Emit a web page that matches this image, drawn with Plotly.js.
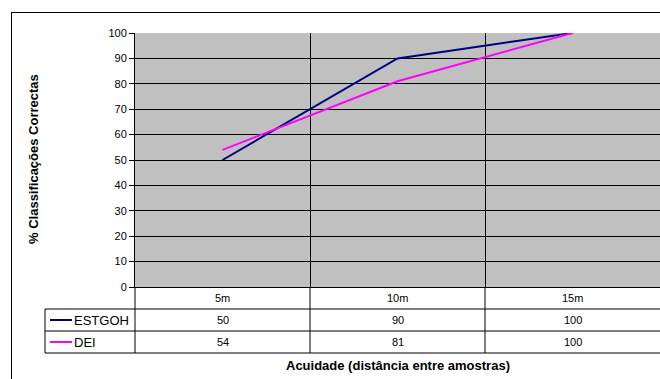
<!DOCTYPE html>
<html>
<head>
<meta charset="utf-8">
<script src="https://cdn.plot.ly/plotly-3.0.1.min.js"></script>
<style>
  html, body { margin: 0; padding: 0; background: #ffffff; }
  #chart { width: 660px; height: 379px; }
</style>
</head>
<body>
<div id="chart"></div>
<script>
// Sampling distance categories and the percentage of correct classifications
const categories = ['5m', '10m', '15m'];
const seriesNames = ['ESTGOH', 'DEI'];
const estgoh = [50, 90, 100];
const dei = [54, 81, 100];
const yTicks = [0, 10, 20, 30, 40, 50, 60, 70, 80, 90, 100];

const seriesValues = [estgoh, dei];
const seriesColors = ['#000080', '#ff00ff'];

// Canvas geometry
const W = 660, H = 379;
const M = { l: 135, r: 0, t: 33, b: 92 };
const plotW = W - M.l - M.r;
const plotH = H - M.t - M.b;
const px = x => (x - M.l) / plotW;          // pixel x -> paper x
const py = y => (H - M.b - y) / plotH;      // pixel y -> paper y

const FONT = 'Liberation Sans, Arial, sans-serif';
const xIdx = categories.map((_, i) => i);

const traces = seriesValues.map((vals, s) => ({
  type: 'scatter',
  mode: 'lines',
  name: seriesNames[s],
  x: xIdx,
  y: vals,
  line: { color: seriesColors[s], width: 2 },
  hoverinfo: 'skip'
}));

// Data table under the plot: header row + one row per series
const rowTop = [287, 309, 331];
const rowH = 22;
const tableBottom = rowTop[2] + rowH;
const legendLeft = 45;
const colBound = k => M.l + plotW * k / categories.length; // column boundaries in px
const colCenter = i => M.l + plotW * (i + 0.5) / categories.length;

const lineStyle = { color: '#000000', width: 1 };
const shapes = [];
// horizontal table rules
[rowTop[1], rowTop[2], tableBottom].forEach(yy => {
  shapes.push({ type: 'line', xref: 'paper', yref: 'paper', x0: px(legendLeft), x1: px(W + 5), y0: py(yy), y1: py(yy), line: lineStyle });
});
// vertical table rules
shapes.push({ type: 'line', xref: 'paper', yref: 'paper', x0: px(legendLeft), x1: px(legendLeft), y0: py(rowTop[1]), y1: py(tableBottom), line: lineStyle });
for (let k = 0; k < categories.length; k++) {
  const xb = colBound(k);
  shapes.push({ type: 'line', xref: 'paper', yref: 'paper', x0: px(xb), x1: px(xb), y0: py(rowTop[0]), y1: py(tableBottom), line: lineStyle });
}
// legend keys in the table
seriesNames.forEach((_, s) => {
  const yc = rowTop[s + 1] + rowH / 2;
  shapes.push({ type: 'line', xref: 'paper', yref: 'paper', x0: px(50), x1: px(72), y0: py(yc), y1: py(yc), line: { color: seriesColors[s], width: 2 } });
});
// outer chart frame
shapes.push({ type: 'line', xref: 'paper', yref: 'paper', x0: px(11.5), x1: px(11.5), y0: py(12), y1: py(H + 5), line: lineStyle });
shapes.push({ type: 'line', xref: 'paper', yref: 'paper', x0: px(11.5), x1: px(W + 5), y0: py(12.5), y1: py(12.5), line: lineStyle });

const annotations = [];
const txt = { family: FONT, size: 11, color: '#000000' };
const nameTxt = { family: FONT, size: 13, color: '#000000' };
const titleTxt = { family: FONT, size: 13, color: '#000000' };
categories.forEach((c, i) => {
  annotations.push({ xref: 'paper', yref: 'paper', x: px(colCenter(i)), y: py(rowTop[0] + rowH / 2), text: c, showarrow: false, font: txt, xanchor: 'center', yanchor: 'middle' });
  seriesValues.forEach((vals, s) => {
    annotations.push({ xref: 'paper', yref: 'paper', x: px(colCenter(i)), y: py(rowTop[s + 1] + rowH / 2), text: String(vals[i]), showarrow: false, font: txt, xanchor: 'center', yanchor: 'middle' });
  });
});
seriesNames.forEach((n, s) => {
  annotations.push({ xref: 'paper', yref: 'paper', x: px(72), y: py(rowTop[s + 1] + rowH / 2), text: n, showarrow: false, font: nameTxt, xanchor: 'left', yanchor: 'middle' });
});
// axis titles
annotations.push({ xref: 'paper', yref: 'paper', x: px(398), y: py(365), text: '<b>Acuidade (distância entre amostras)</b>', showarrow: false, font: titleTxt, xanchor: 'center', yanchor: 'middle' });
annotations.push({ xref: 'paper', yref: 'paper', x: px(33), y: py(159), text: '<b>% Classificações Correctas</b>', textangle: -90, showarrow: false, font: titleTxt, xanchor: 'center', yanchor: 'middle' });

const layout = {
  width: W,
  height: H,
  margin: M,
  paper_bgcolor: '#ffffff',
  plot_bgcolor: '#c0c0c0',
  showlegend: false,
  xaxis: {
    range: [-0.5, categories.length - 0.5],
    tickvals: xIdx.slice(0, -1).map(i => i + 0.5),
    showticklabels: false,
    ticks: '',
    showgrid: true,
    gridcolor: '#000000',
    gridwidth: 1,
    zeroline: false,
    showline: true,
    linecolor: '#000000',
    linewidth: 1,
    fixedrange: true
  },
  yaxis: {
    range: [0, 100],
    tickvals: yTicks,
    ticktext: yTicks.map(String),
    ticks: 'outside',
    ticklen: 5,
    tickcolor: '#000000',
    tickfont: txt,
    showgrid: true,
    gridcolor: '#000000',
    gridwidth: 1,
    zeroline: false,
    showline: true,
    linecolor: '#000000',
    linewidth: 1,
    fixedrange: true
  },
  shapes: shapes,
  annotations: annotations
};

Plotly.newPlot('chart', traces, layout, { displayModeBar: false, staticPlot: true });
</script>
</body>
</html>
